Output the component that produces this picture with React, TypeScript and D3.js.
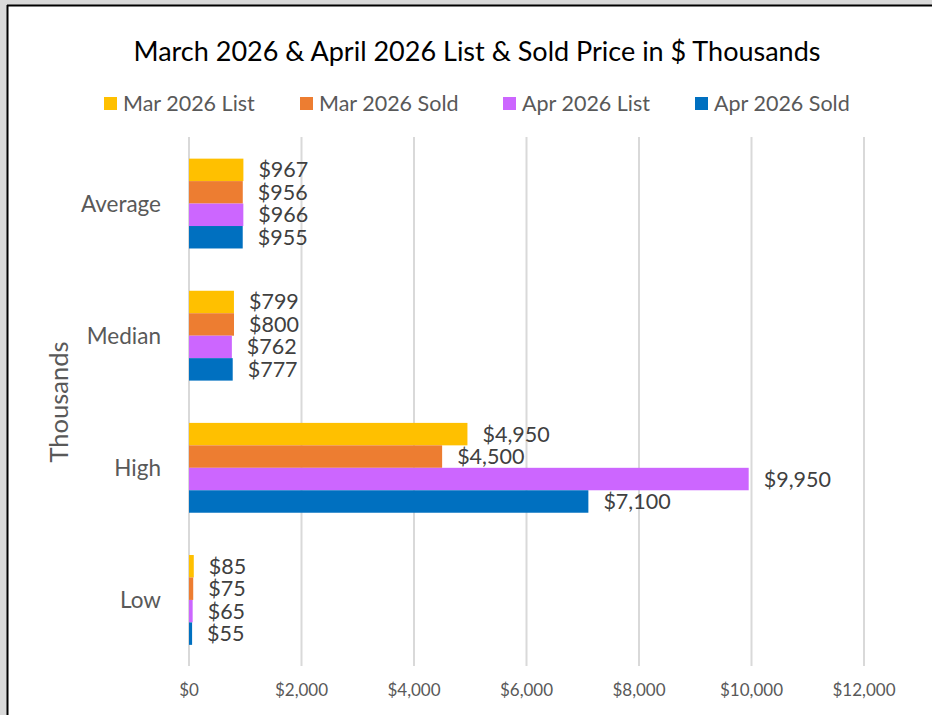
import React from "react";
import * as d3 from "d3";

const categories = ["Average", "Median", "High", "Low"];
const seriesNames = ["Mar 2026 List", "Mar 2026 Sold", "Apr 2026 List", "Apr 2026 Sold"];
const seriesColors = ["#FFC000", "#ED7D31", "#CC66FF", "#0070C0"];
const marList = [967, 799, 4950, 85];
const marSold = [956, 800, 4500, 75];
const aprList = [966, 762, 9950, 65];
const aprSold = [955, 777, 7100, 55];
const xTicks = [0, 2000, 4000, 6000, 8000, 10000, 12000];

const W = 932;
const H = 715;
const FONT = "Lato, 'Noto Sans', sans-serif";

export default function App() {
  const series = [marList, marSold, aprList, aprSold];
  const x = d3.scaleLinear().domain([0, 12000]).range([189, 864]);
  const y = d3.scaleBand<string>().domain(categories).range([137.5, 666]).paddingInner(0.32).paddingOuter(0.16);
  const inner = d3.scaleBand<string>().domain(seriesNames).range([0, y.bandwidth()]);
  const fmt = (v: number) => "$" + d3.format(",")(v);

  const legendX = [104, 300, 503, 695];

  return (
    <svg width={W} height={H} style={{ position: "absolute", left: 0, top: 0 }} fontFamily={FONT}>
      <rect x={0} y={0} width={W} height={H} fill="#d9d9d9" />
      <rect x={7} y={5} width={W} height={H} fill="#ffffff" />
      <line x1={7.5} y1={5} x2={7.5} y2={H} stroke="#000" strokeWidth={2} />
      <line x1={7} y1={5.5} x2={W} y2={5.5} stroke="#000" strokeWidth={2} />

      <text x={477} y={61} textAnchor="middle" fontSize={27} fill="#000">
        March 2026 &amp; April 2026 List &amp; Sold Price in $ Thousands
      </text>

      {seriesNames.map((name, i) => (
        <g key={name}>
          <rect x={legendX[i]} y={97} width={13} height={13} fill={seriesColors[i]} />
          <text x={legendX[i] + 19} y={111} fontSize={21.5} fill="#595959">{name}</text>
        </g>
      ))}

      {xTicks.map((t) => (
        <g key={t}>
          <line x1={x(t)} x2={x(t)} y1={137} y2={666} stroke="#d9d9d9" strokeWidth={2} />
          <text x={x(t)} y={696} textAnchor="middle" fontSize={17} fill="#595959">{fmt(t)}</text>
        </g>
      ))}

      {categories.map((c, ci) => (
        <g key={c}>
          <text x={161} y={(y(c) as number) + y.bandwidth() / 2 + 8} textAnchor="end" fontSize={22.5} fill="#595959">{c}</text>
          {series.map((vals, si) => {
            const by = (y(c) as number) + (inner(seriesNames[si]) as number);
            return (
              <g key={si}>
                <rect x={x(0)} y={by} width={x(vals[ci]) - x(0)} height={inner.bandwidth()} fill={seriesColors[si]} />
                <text x={x(vals[ci]) + 15} y={by + inner.bandwidth() / 2 + 7.5} fontSize={21.5} fill="#404040">{fmt(vals[ci])}</text>
              </g>
            );
          })}
        </g>
      ))}

      <text transform="translate(68,402) rotate(-90)" textAnchor="middle" fontSize={25.5} fill="#595959">Thousands</text>
    </svg>
  );
}
